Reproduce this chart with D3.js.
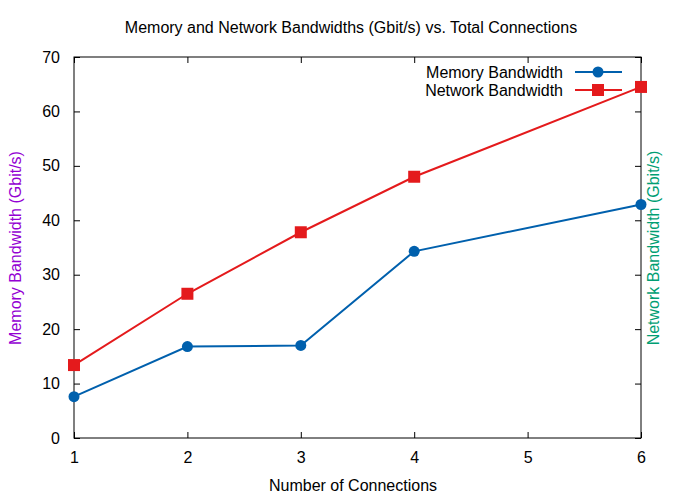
<!DOCTYPE html>
<html>
<head>
<meta charset="utf-8">
<script src="https://cdn.jsdelivr.net/npm/d3@7"></script>
<style>
  body { margin: 0; background: #fff; }
  text { font-family: "Liberation Sans", Arial, sans-serif; fill: #000; }
</style>
</head>
<body>
<svg id="chart" width="700" height="500"></svg>
<script>
const connections = [1, 2, 3, 4, 6];
const memoryBw = [7.6, 16.8, 17.0, 34.3, 42.9];
const networkBw = [13.4, 26.5, 37.8, 48.0, 64.5];
const xTicks = [1, 2, 3, 4, 5, 6];
const yTicks = [0, 10, 20, 30, 40, 50, 60, 70];

const margin = {left: 74, right: 59, top: 57, bottom: 62};
const width = 700 - margin.left - margin.right;
const height = 500 - margin.top - margin.bottom;

const svg = d3.select("#chart");
const g = svg.append("g").attr("transform", `translate(${margin.left},${margin.top})`);

const x = d3.scaleLinear().domain([1, 6]).range([0, width]);
const y = d3.scaleLinear().domain([0, 70]).range([height, 0]);

// ticks (inward, mirrored)
const tickLen = 6;
const axisFont = "16px";
g.append("g").attr("transform", `translate(0,${height})`)
    .call(d3.axisBottom(x).tickValues(xTicks).tickSize(-tickLen).tickPadding(14).tickFormat(d3.format("d")))
    .call(a => a.select(".domain").remove())
    .selectAll("text").style("font-size", axisFont);
g.append("g")
    .call(d3.axisTop(x).tickValues(xTicks).tickSize(-tickLen).tickFormat(""))
    .call(a => a.select(".domain").remove());
g.append("g")
    .call(d3.axisLeft(y).tickValues(yTicks).tickSize(-tickLen).tickPadding(14).tickFormat(d3.format("d")))
    .call(a => a.select(".domain").remove())
    .selectAll("text").style("font-size", axisFont);
g.append("g").attr("transform", `translate(${width},0)`)
    .call(d3.axisRight(y).tickValues(yTicks).tickSize(-tickLen).tickFormat(""))
    .call(a => a.select(".domain").remove());

g.append("rect")
    .attr("width", width).attr("height", height)
    .attr("fill", "none").attr("stroke", "#000").attr("stroke-width", 1);

const line = d3.line().x((d, i) => x(connections[i])).y(d => y(d));

const blue = "#0060ad", red = "#e41a1c";

g.append("path").datum(memoryBw).attr("d", line)
    .attr("fill", "none").attr("stroke", blue).attr("stroke-width", 2);
g.append("path").datum(networkBw).attr("d", line)
    .attr("fill", "none").attr("stroke", red).attr("stroke-width", 2);

g.selectAll(".mem").data(memoryBw).enter().append("circle")
    .attr("cx", (d, i) => x(connections[i])).attr("cy", d => y(d))
    .attr("r", 5.5).attr("fill", blue);
g.selectAll(".net").data(networkBw).enter().append("rect")
    .attr("x", (d, i) => x(connections[i]) - 6).attr("y", d => y(d) - 6)
    .attr("width", 12).attr("height", 12).attr("fill", red);

// legend
const legend = [
    {label: "Memory Bandwidth", color: blue, shape: "circle"},
    {label: "Network Bandwidth", color: red, shape: "square"}
];
const lg = svg.append("g");
legend.forEach((d, i) => {
    const ly = 72 + i * 18;
    lg.append("text").attr("x", 563).attr("y", ly).attr("dy", "0.35em")
        .attr("text-anchor", "end").style("font-size", "16px").text(d.label);
    lg.append("line").attr("x1", 575).attr("x2", 622).attr("y1", ly).attr("y2", ly)
        .attr("stroke", d.color).attr("stroke-width", 2);
    if (d.shape === "circle") {
        lg.append("circle").attr("cx", 598).attr("cy", ly).attr("r", 5.5).attr("fill", d.color);
    } else {
        lg.append("rect").attr("x", 592).attr("y", ly - 6).attr("width", 12).attr("height", 12).attr("fill", d.color);
    }
});

// titles
svg.append("text").attr("x", 351).attr("y", 33).attr("text-anchor", "middle")
    .style("font-size", "16px").text("Memory and Network Bandwidths (Gbit/s) vs. Total Connections");
svg.append("text").attr("x", 353).attr("y", 491).attr("text-anchor", "middle")
    .style("font-size", "16px").text("Number of Connections");
svg.append("text").attr("transform", "translate(21,248) rotate(-90)").attr("text-anchor", "middle")
    .style("font-size", "16px").style("fill", "#9400d3").text("Memory Bandwidth (Gbit/s)");
svg.append("text").attr("transform", "translate(659,248) rotate(-90)").attr("text-anchor", "middle")
    .style("font-size", "16px").style("fill", "#009e73").text("Network Bandwidth (Gbit/s)");
</script>
</body>
</html>
